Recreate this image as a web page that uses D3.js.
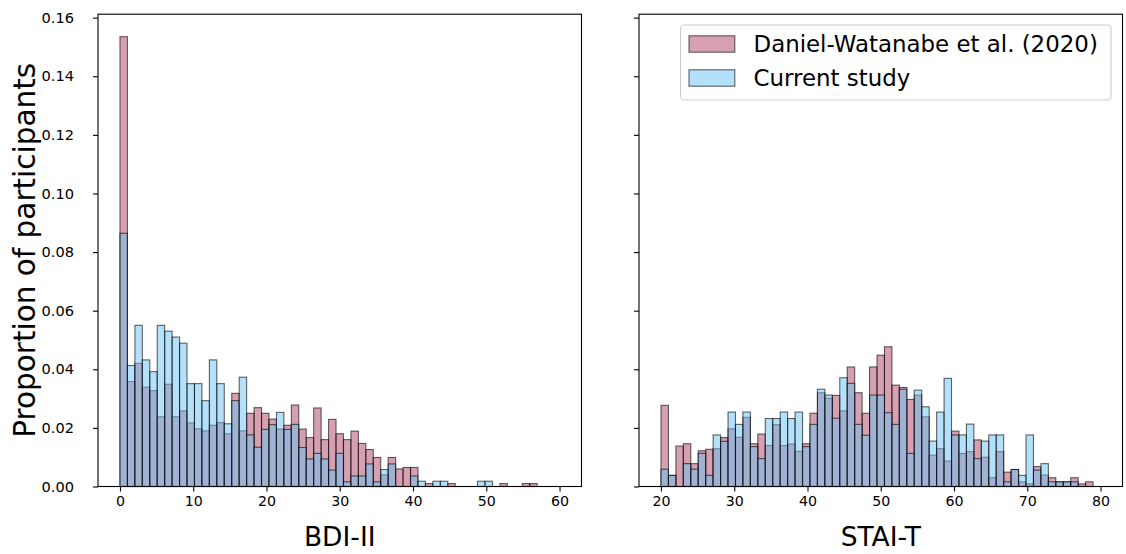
<!DOCTYPE html>
<html><head><meta charset="utf-8">
<script src="https://cdn.jsdelivr.net/npm/d3@7"></script>
<style>
body{margin:0;background:#fff}
svg{display:block}
text{font-family:"DejaVu Sans",sans-serif;fill:#000}
</style>
</head><body>
<svg id="c" width="1126" height="554"></svg>
<script>
// ---- data (proportion of participants per bin; 59 equal bins across each range) ----
const seriesNames = ["Daniel-Watanabe et al. (2020)", "Current study"];
const bdiRange = [0, 60];
const staiRange = [20, 80];
const binCount = 59;
const bdiTicks = [0, 10, 20, 30, 40, 50, 60];
const staiTicks = [20, 30, 40, 50, 60, 70, 80];
const yTicks = [0, 0.02, 0.04, 0.06, 0.08, 0.10, 0.12, 0.14, 0.16];

const bdiDW = [0.1535, 0.0358, 0.0420, 0.0339, 0.0327, 0.0238, 0.0349, 0.0238, 0.0258, 0.0217,
  0.0197, 0.0190, 0.0209, 0.0218, 0.0180, 0.0318, 0.0190, 0.0250, 0.0269, 0.0250,
  0.0230, 0.0196, 0.0209, 0.0278, 0.0196, 0.0167, 0.0268, 0.0160, 0.0229, 0.0180,
  0.0160, 0.0189, 0.0147, 0.0126, 0.0099, 0.0040, 0.0099, 0.0060, 0.0065, 0.0065,
  0, 0.0010, 0, 0, 0.0010, 0, 0, 0, 0, 0,
  0, 0.0010, 0, 0, 0.0010, 0.0010, 0, 0, 0];
const bdiCur = [0.0864, 0.0413, 0.0550, 0.0432, 0.0392, 0.0550, 0.0530, 0.0510, 0.0489, 0.0351,
  0.0351, 0.0293, 0.0432, 0.0351, 0.0214, 0.0293, 0.0373, 0.0176, 0.0134, 0.0195,
  0.0211, 0.0253, 0.0195, 0.0212, 0.0133, 0.0094, 0.0113, 0.0094, 0.0056, 0.0113,
  0.0016, 0.0036, 0.0036, 0.0077, 0.0016, 0.0058, 0.0077, 0, 0, 0.0036,
  0.0018, 0, 0.0018, 0.0018, 0, 0, 0, 0, 0.0018, 0.0018,
  0, 0, 0, 0, 0, 0, 0, 0, 0];
const staiDW = [0.0277, 0.0038, 0.0138, 0.0146, 0.0078, 0.0122, 0.0127, 0.0129, 0.0167, 0.0197,
  0.0168, 0.0236, 0.0146, 0.0179, 0.0140, 0.0211, 0.0140, 0.0145, 0.0120, 0.0146,
  0.0250, 0.0320, 0.0301, 0.0311, 0.0258, 0.0408, 0.0320, 0.0250, 0.0408, 0.0448,
  0.0477, 0.0346, 0.0338, 0.0297, 0.0312, 0.0238, 0.0107, 0.0129, 0.0087, 0.0189,
  0.0113, 0.0119, 0.0159, 0.0100, 0.0030, 0.0119, 0.0049, 0.0058, 0.0016, 0.0009,
  0.0068, 0.0039, 0.0030, 0.0016, 0.0016, 0.0030, 0.0009, 0.0016, 0];
const staiCur = [0.0059, 0.0038, 0, 0.0078, 0.0059, 0.0113, 0.0038, 0.0176, 0.0154, 0.0254,
  0.0212, 0.0254, 0.0136, 0.0095, 0.0232, 0.0232, 0.0254, 0.0232, 0.0254, 0.0136,
  0.0212, 0.0332, 0.0312, 0.0233, 0.0371, 0.0352, 0.0212, 0.0175, 0.0312, 0.0312,
  0.0252, 0.0212, 0.0332, 0.0113, 0.0329, 0.0272, 0.0155, 0.0254, 0.0369, 0.0176,
  0.0176, 0.0213, 0.0095, 0.0155, 0.0176, 0.0176, 0.0016, 0.0058, 0.0038, 0.0176,
  0.0056, 0.0078, 0.0016, 0.0016, 0.0016, 0.0016, 0, 0, 0];

// ---- styling ----
const colors = ["rgb(173,65,97)", "rgb(107,193,243)"];
const fillOp = 0.5, edgeOp = 0.6;
const plotTop = 14.2, plotBottom = 486.5;

const svg = d3.select("#c");
const ymax = d3.max([].concat(bdiDW, bdiCur, staiDW, staiCur)) * 1.05;
const y = d3.scaleLinear().domain([0, ymax]).range([plotBottom, plotTop]);

const panels = [
  {x0: 98, x1: 581.5, range: bdiRange, ticks: bdiTicks, label: "BDI-II", series: [bdiDW, bdiCur], ylab: true},
  {x0: 639, x1: 1122.5, range: staiRange, ticks: staiTicks, label: "STAI-T", series: [staiDW, staiCur], ylab: false}
];

panels.forEach(p => {
  const [lo, hi] = p.range;
  const m = 0.05 * (hi - lo);
  const x = d3.scaleLinear().domain([lo - m, hi + m]).range([p.x0, p.x1]);
  const edges = d3.range(binCount + 1).map(k => lo + k * (hi - lo) / binCount);
  const g = svg.append("g");

  p.series.forEach((vals, si) => {
    g.append("g").selectAll("rect")
      .data(vals.map((v, j) => ({v, a: edges[j], b: edges[j + 1]})).filter(d => d.v > 0))
      .join("rect")
      .attr("x", d => x(d.a))
      .attr("width", d => x(d.b) - x(d.a))
      .attr("y", d => y(d.v))
      .attr("height", d => y(0) - y(d.v))
      .attr("fill", colors[si]).attr("fill-opacity", fillOp)
      .attr("stroke", "#000").attr("stroke-opacity", edgeOp).attr("stroke-width", 1.1);
  });

  // axes
  const xa = g.append("g").attr("transform", `translate(0,${plotBottom})`)
    .call(d3.axisBottom(x).tickValues(p.ticks).tickSize(5).tickPadding(4.5).tickFormat(d3.format("d")));
  xa.select(".domain").remove();
  xa.selectAll("text").attr("font-size", 14.2).attr("font-family", "DejaVu Sans");
  xa.selectAll("line").attr("stroke-width", 1.1);

  const ya = g.append("g").attr("transform", `translate(${p.x0},0)`)
    .call(d3.axisLeft(y).tickValues(yTicks).tickSize(5).tickPadding(19)
      .tickFormat(p.ylab ? d3.format(".2f") : () => ""));
  ya.select(".domain").remove();
  ya.selectAll("text").attr("font-size", 14.6).attr("font-family", "DejaVu Sans");
  ya.selectAll("line").attr("stroke-width", 1.1);

  // frame
  g.append("rect").attr("x", p.x0).attr("y", plotTop)
    .attr("width", p.x1 - p.x0).attr("height", plotBottom - plotTop)
    .attr("fill", "none").attr("stroke", "#000").attr("stroke-width", 1.1);

  // x label
  g.append("text").attr("x", (p.x0 + p.x1) / 2).attr("y", 546)
    .attr("text-anchor", "middle").attr("font-size", 26.5).text(p.label);
});

// y label
svg.append("text")
  .attr("transform", `translate(35,${(plotTop + plotBottom) / 2}) rotate(-90)`)
  .attr("text-anchor", "middle").attr("font-size", 29.5)
  .text("Proportion of participants");

// legend
const lg = svg.append("g");
lg.append("rect").attr("x", 680.5).attr("y", 25).attr("width", 430.5).attr("height", 75)
  .attr("rx", 4).attr("fill", "#fff").attr("fill-opacity", 0.8)
  .attr("stroke", "#cccccc").attr("stroke-width", 1.1);
const legFs = 22.9;
seriesNames.forEach((name, i) => {
  const cy = 44 + i * 34;
  lg.append("rect").attr("x", 689).attr("y", cy - 8.2).attr("width", 45.8).attr("height", 16.4)
    .attr("fill", colors[i]).attr("fill-opacity", fillOp)
    .attr("stroke", "#000").attr("stroke-opacity", edgeOp).attr("stroke-width", 1.1);
  lg.append("text").attr("x", 753.5).attr("y", cy + 8.4)
    .attr("font-size", legFs).text(name);
});
</script>
</body></html>
